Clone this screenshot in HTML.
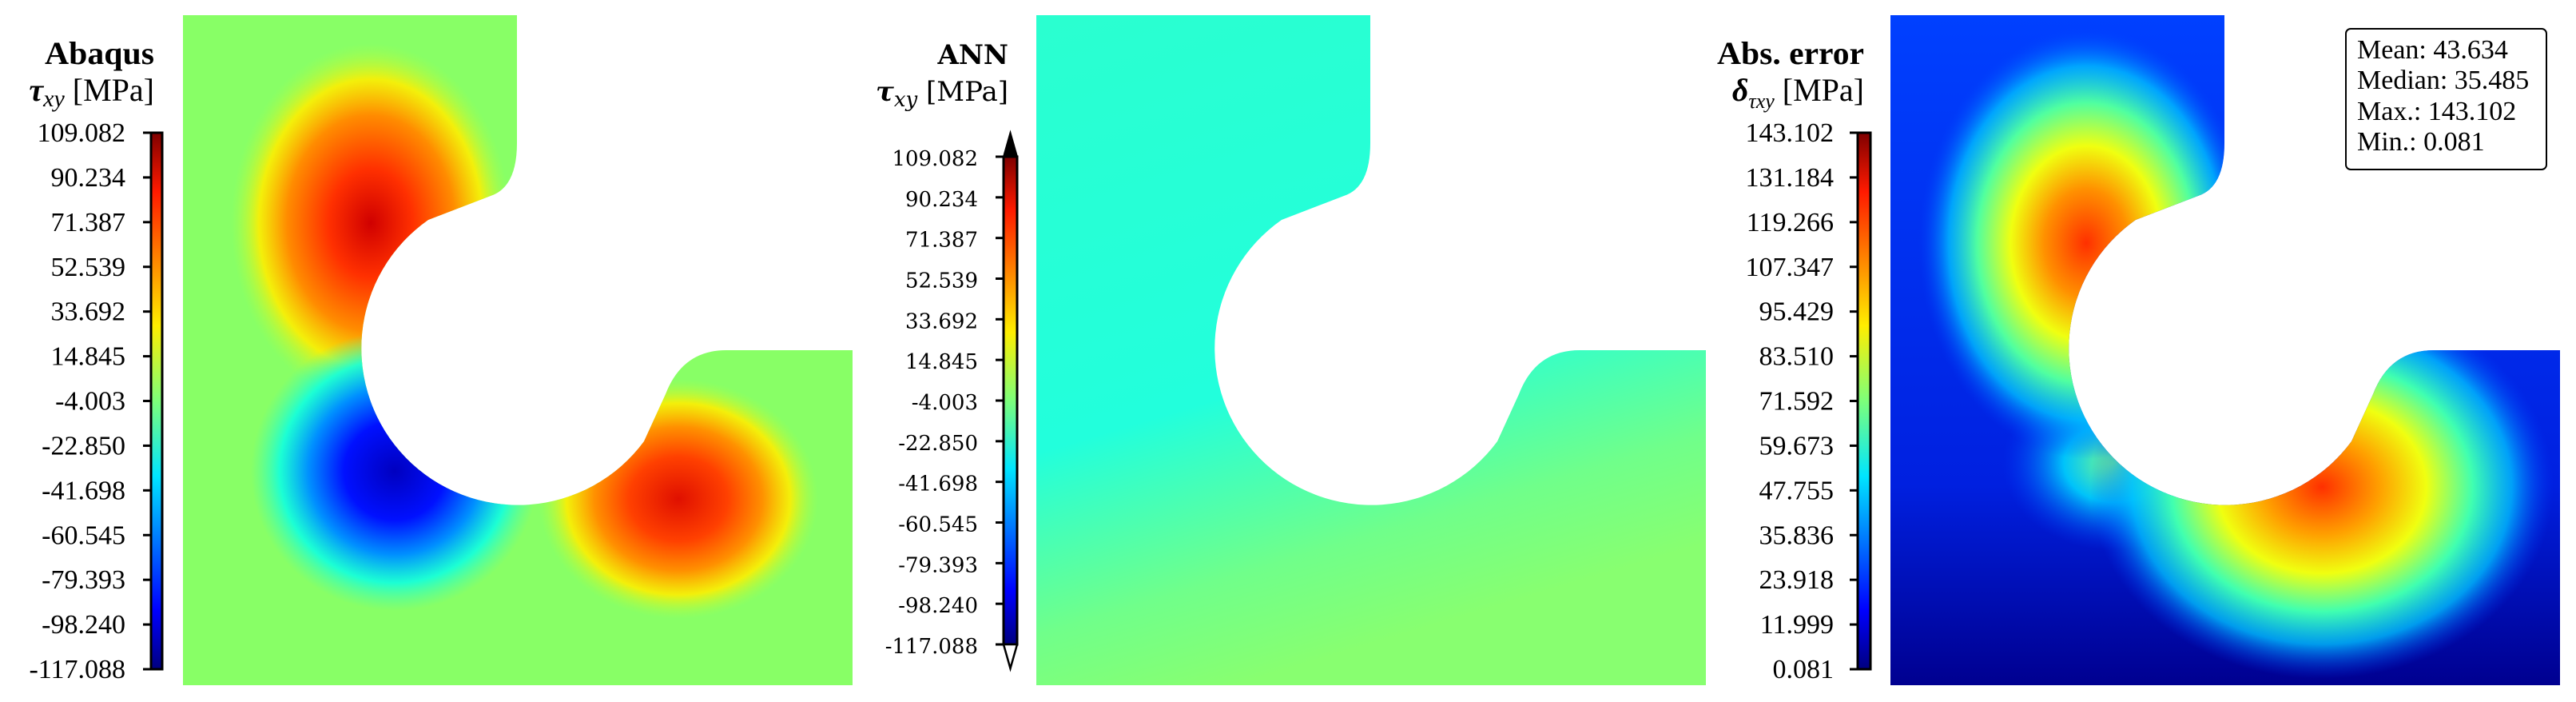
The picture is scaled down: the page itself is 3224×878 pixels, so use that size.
<!DOCTYPE html>
<html><head><meta charset="utf-8">
<style>
html,body{margin:0;padding:0;background:#fff;}
svg{display:block;}
.lab{font-family:"Liberation Serif",serif;font-size:34px;fill:#000;}
.lab2{font-family:"DejaVu Serif",serif;font-size:26px;fill:#000;}
.tt{font-family:"Liberation Serif",serif;font-size:40px;fill:#000;}
.tt2{font-family:"DejaVu Serif",serif;font-size:34px;fill:#000;}
</style></head>
<body>
<svg id="fig" width="3224" height="878" viewBox="0 0 3224 878" xmlns="http://www.w3.org/2000/svg">
<defs>
  <linearGradient id="jet" x1="0" y1="1" x2="0" y2="0">
    <stop offset="0" stop-color="#00007f"/><stop offset="0.11" stop-color="#0000ff"/>
    <stop offset="0.36" stop-color="#00e5ff"/><stop offset="0.5" stop-color="#7dff7a"/>
    <stop offset="0.64" stop-color="#ffee00"/><stop offset="0.89" stop-color="#ff1a00"/>
    <stop offset="1" stop-color="#7f0000"/>
  </linearGradient>
  <clipPath id="plate"><path d="M0,0 H418 V160 Q418,215 385,226 L307,256 A196,196 0 1 0 577,533 L604,474 Q625,419 680,419 H838 V838 H0 Z"/></clipPath>
  <!-- panel 1 -->
  <radialGradient id="p1a" cx="235" cy="260" r="1" gradientUnits="userSpaceOnUse" gradientTransform="translate(235 260) scale(175 225) translate(-235 -260)">
    <stop offset="0" stop-color="#d00000"/><stop offset="0.3" stop-color="#ff3000"/><stop offset="0.6" stop-color="#ff8c00"/><stop offset="0.8" stop-color="#ffee00" stop-opacity="0.9"/><stop offset="1" stop-color="#b0ff40" stop-opacity="0"/>
  </radialGradient>
  <radialGradient id="p1b" cx="265" cy="570" r="1" gradientUnits="userSpaceOnUse" gradientTransform="translate(265 570) scale(180 175) translate(-265 -570)">
    <stop offset="0" stop-color="#0000c0"/><stop offset="0.35" stop-color="#0010ff"/><stop offset="0.6" stop-color="#0090ff"/><stop offset="0.8" stop-color="#10ffe0" stop-opacity="0.9"/><stop offset="1" stop-color="#40ffb0" stop-opacity="0"/>
  </radialGradient>
  <radialGradient id="p1c" cx="620" cy="605" r="1" gradientUnits="userSpaceOnUse" gradientTransform="translate(620 605) scale(175 150) translate(-620 -605)">
    <stop offset="0" stop-color="#e01000"/><stop offset="0.35" stop-color="#ff4000"/><stop offset="0.6" stop-color="#ff9000"/><stop offset="0.8" stop-color="#ffee00" stop-opacity="0.9"/><stop offset="1" stop-color="#b0ff40" stop-opacity="0"/>
  </radialGradient>
  <!-- panel 2 -->
  <linearGradient id="p2" x1="0" y1="0" x2="0.3" y2="1">
    <stop offset="0" stop-color="#2affd0"/><stop offset="0.6" stop-color="#22ffdc"/><stop offset="0.85" stop-color="#70ff8a"/><stop offset="1" stop-color="#88ff70"/>
  </linearGradient>
  <!-- panel 3 -->
  <radialGradient id="p3a" cx="245" cy="285" r="1" gradientUnits="userSpaceOnUse" gradientTransform="translate(245 285) scale(210 270) translate(-245 -285)">
    <stop offset="0" stop-color="#ff3000"/><stop offset="0.25" stop-color="#ff9000"/><stop offset="0.45" stop-color="#f0ff10"/><stop offset="0.65" stop-color="#50ffa0"/><stop offset="0.82" stop-color="#00c0ff" stop-opacity="0.8"/><stop offset="1" stop-color="#0040ff" stop-opacity="0"/>
  </radialGradient>
  <radialGradient id="p3b" cx="540" cy="590" r="1" gradientUnits="userSpaceOnUse" gradientTransform="translate(540 590) scale(290 240) translate(-540 -590)">
    <stop offset="0" stop-color="#ff3000"/><stop offset="0.25" stop-color="#ffa000"/><stop offset="0.45" stop-color="#f0ff10"/><stop offset="0.65" stop-color="#40ffb0"/><stop offset="0.82" stop-color="#00c0ff" stop-opacity="0.8"/><stop offset="1" stop-color="#0040ff" stop-opacity="0"/>
  </radialGradient>
  <radialGradient id="p3c" cx="280" cy="560" r="1" gradientUnits="userSpaceOnUse" gradientTransform="translate(280 560) scale(140 110) translate(-280 -560)">
    <stop offset="0" stop-color="#80ff80"/><stop offset="0.45" stop-color="#00e0ff" stop-opacity="0.85"/><stop offset="1" stop-color="#0040ff" stop-opacity="0"/>
  </radialGradient>
  <linearGradient id="p3base" x1="0" y1="0" x2="0" y2="1">
    <stop offset="0" stop-color="#0040ff"/><stop offset="0.7" stop-color="#0020e0"/><stop offset="1" stop-color="#000090"/>
  </linearGradient>
</defs>

<g transform="translate(229 19)" clip-path="url(#plate)">
  <rect width="838" height="838" fill="#88ff66"/>
  <rect width="838" height="838" fill="url(#p1a)"/>
  <rect width="838" height="838" fill="url(#p1b)"/>
  <rect width="838" height="838" fill="url(#p1c)"/>
</g>
<g transform="translate(1297 19)" clip-path="url(#plate)">
  <rect width="838" height="838" fill="url(#p2)"/>
</g>
<g transform="translate(2366 19)" clip-path="url(#plate)">
  <rect width="838" height="838" fill="url(#p3base)"/>
  <rect width="838" height="838" fill="url(#p3c)"/>
  <rect width="838" height="838" fill="url(#p3b)"/>
  <rect width="838" height="838" fill="url(#p3a)"/>
</g>

<!-- titles -->
<text class="tt" x="193" y="80" text-anchor="end" font-weight="bold" textLength="137" lengthAdjust="spacingAndGlyphs">Abaqus</text>
<text class="tt" x="193" y="126" text-anchor="end"><tspan font-weight="bold" font-style="italic">τ</tspan><tspan font-style="italic" font-size="30" dy="7">xy</tspan><tspan dy="-7"> [MPa]</tspan></text>
<text class="tt2" x="1262" y="80" text-anchor="end" font-weight="bold">ANN</text>
<text class="tt2" x="1262" y="126" text-anchor="end"><tspan font-weight="bold" font-style="italic">τ</tspan><tspan font-style="italic" font-size="26" dy="7">xy</tspan><tspan dy="-7"> [MPa]</tspan></text>
<text class="tt" x="2333" y="80" text-anchor="end" font-weight="bold" textLength="184" lengthAdjust="spacingAndGlyphs">Abs. error</text>
<text class="tt" x="2333" y="126" text-anchor="end"><tspan font-weight="bold" font-style="italic">δ</tspan><tspan font-style="italic" font-size="26" dy="9">τxy</tspan><tspan dy="-9"> [MPa]</tspan></text>

<!-- stats box -->
<g>
  <rect x="2936" y="36" width="251" height="176" rx="6" fill="#fff" stroke="#000" stroke-width="2"/>
  <text class="lab" x="2950" y="73" font-size="31">Mean: 43.634</text>
  <text class="lab" x="2950" y="111" font-size="31">Median: 35.485</text>
  <text class="lab" x="2950" y="150" font-size="31">Max.: 143.102</text>
  <text class="lab" x="2950" y="188" font-size="31">Min.: 0.081</text>
</g>
<g id="bars"></g>

<script>
const ticksStress = ["109.082","90.234","71.387","52.539","33.692","14.845","-4.003","-22.850","-41.698","-60.545","-79.393","-98.240","-117.088"];
const ticksError = ["143.102","131.184","119.266","107.347","95.429","83.510","71.592","59.673","47.755","35.836","23.918","11.999","0.081"];
const NS = "http://www.w3.org/2000/svg";
const g = document.getElementById('bars');
function mk(tag, attrs){const e=document.createElementNS(NS,tag);for(const k in attrs)e.setAttribute(k,attrs[k]);g.appendChild(e);return e;}
function colorbar(name, x0, x1, yTop, yBot, labels, labelX, cls, extend){
  const r = mk('rect',{x:x0,y:yTop,width:x1-x0,height:yBot-yTop,fill:'url(#jet)',stroke:'#000','stroke-width':3});
  
  
  if(extend){
    const up = mk('path',{d:`M${x0},${yTop} L${(x0+x1)/2},${yTop-30} L${x1},${yTop} Z`,fill:'#000',stroke:'#000','stroke-width':2});
    
    
    const dn = mk('path',{d:`M${x0},${yBot} L${(x0+x1)/2},${yBot+30} L${x1},${yBot} Z`,fill:'#fff',stroke:'#000','stroke-width':2.5});
    
    
  }
  const n = labels.length;
  labels.forEach((lab,i)=>{
    const y = yTop + (yBot-yTop)*i/(n-1);
    const t = mk('line',{x1:x0-10,x2:x0,y1:y,y2:y,stroke:'#000','stroke-width':3});
    
    
    const tx = mk('text',{x:labelX,y:y+11,'text-anchor':'end',class:cls});
    tx.textContent = lab;
    
    
  });
}
colorbar('abaqus-colorbar',189,203,166,837,ticksStress,157,'lab',false);
colorbar('ann-colorbar',1256,1273,196,806,ticksStress,1224,'lab2',true);
colorbar('error-colorbar',2325,2341,166,837,ticksError,2295,'lab',false);
</script>
</svg>
</body></html>
